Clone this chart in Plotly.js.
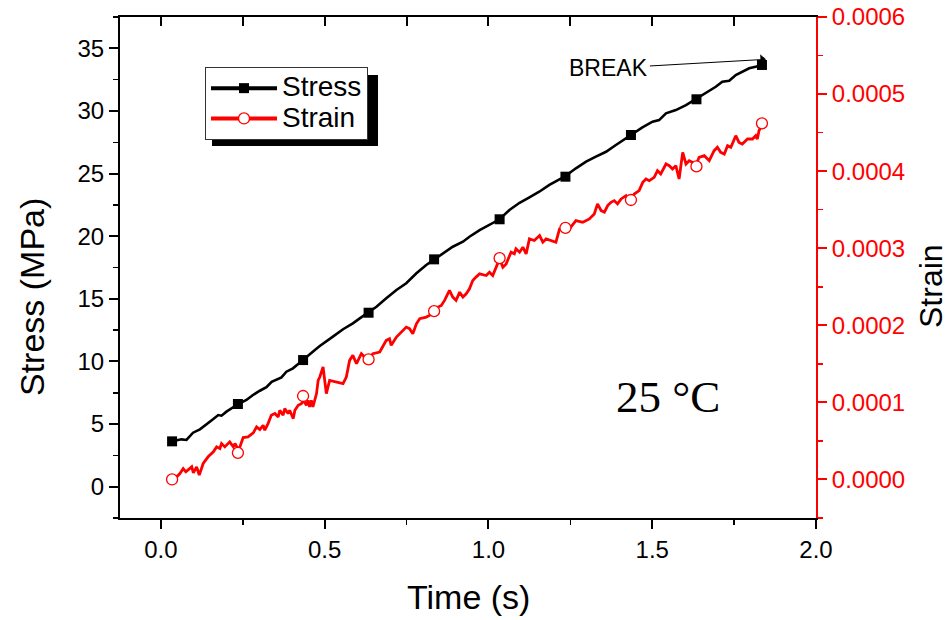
<!DOCTYPE html>
<html>
<head>
<meta charset="utf-8">
<script src="https://cdn.plot.ly/plotly-3.0.1.min.js"></script>
<style>html,body{margin:0;padding:0;background:#fff;}#chart{width:951px;height:620px;}</style>
</head>
<body>
<div id="chart"></div>
<script>
// ---- data ----
const stressTime = [0.034,0.063,0.078,0.088,0.098,0.119,0.139,0.159,0.175,0.185,0.200,0.220,0.236,0.261,0.281,0.302,0.322,0.338,0.353,0.368,0.383,0.403,0.419,0.434,0.454,0.470,0.485,0.505,0.525,0.556,0.586,0.607,0.632,0.658,0.688,0.719,0.749,0.780,0.810,0.835,0.861,0.891,0.922,0.942,0.973,1.003,1.034,1.064,1.095,1.125,1.155,1.186,1.232,1.267,1.298,1.328,1.359,1.389,1.435,1.470,1.501,1.521,1.542,1.572,1.603,1.633,1.664,1.694,1.714,1.735,1.755,1.775,1.796,1.816,1.836];
const stressValues = [3.62,3.78,3.73,3.99,4.31,4.58,4.95,5.38,5.72,5.67,5.99,6.34,6.60,6.92,7.32,7.66,7.94,8.38,8.57,8.73,9.18,9.45,9.80,10.11,10.51,10.91,11.23,11.58,11.98,12.57,13.04,13.44,13.89,14.37,15.04,15.70,16.24,17.04,17.70,18.15,18.63,19.16,19.56,19.96,20.49,20.89,21.35,22.09,22.67,23.10,23.55,24.09,24.75,25.42,25.95,26.35,26.74,27.28,28.08,28.69,29.14,29.27,29.81,30.07,30.47,30.93,31.41,31.93,32.33,32.41,32.87,33.13,33.40,33.53,33.67];

const strainTime = [0.035,0.048,0.058,0.068,0.076,0.083,0.094,0.099,0.109,0.117,0.129,0.144,0.160,0.170,0.180,0.185,0.195,0.210,0.221,0.226,0.236,0.241,0.251,0.266,0.282,0.292,0.302,0.312,0.317,0.327,0.337,0.348,0.358,0.363,0.373,0.378,0.388,0.393,0.404,0.409,0.419,0.429,0.436,0.444,0.449,0.454,0.459,0.464,0.475,0.480,
0.485,0.495,0.505,0.515,0.536,0.556,0.566,0.576,0.586,0.597,0.612,0.627,0.634,0.647,0.668,0.688,0.698,0.703,0.719,0.729,0.749,0.759,0.769,0.780,0.790,0.810,0.820,0.835,0.846,0.856,0.866,0.881,0.891,0.901,0.912,0.922,0.932,0.942,0.952,0.962,0.973,
0.993,1.003,1.013,1.023,1.034,1.044,1.054,1.069,1.079,1.084,1.095,1.105,1.115,1.125,1.140,1.156,1.166,1.176,1.191,1.206,1.217,1.235,1.247,1.267,1.288,1.308,1.323,1.333,1.344,1.354,1.364,1.374,1.384,1.394,1.405,1.420,1.430,1.435,1.445,1.460,
1.471,1.481,1.491,1.506,1.516,1.526,1.542,1.552,1.562,1.572,1.582,1.593,1.603,1.613,1.623,1.633,1.643,1.659,1.674,1.689,1.699,1.709,1.720,1.730,1.740,1.755,1.765,1.775,1.791,1.806,1.816,1.821,1.826,1.836];
const strainValues = [0e-5,0.34e-5,0.77e-5,1.42e-5,0.99e-5,1.20e-5,1.64e-5,0.86e-5,1.64e-5,0.56e-5,2.07e-5,2.94e-5,3.58e-5,4.23e-5,4.01e-5,4.66e-5,4.23e-5,4.88e-5,4.23e-5,4.66e-5,3.90e-5,4.23e-5,5.44e-5,5.52e-5,6.04e-5,6.82e-5,6.47e-5,7.03e-5,6.39e-5,7.25e-5,8.33e-5,8.55e-5,8.11e-5,8.98e-5,8.33e-5,9.19e-5,8.55e-5,8.98e-5,7.90e-5,8.98e-5,9.62e-5,9.84e-5,10.27e-5,9.62e-5,10.27e-5,9.41e-5,10.27e-5,9.41e-5,11.14e-5,12.86e-5,
13.29e-5,14.59e-5,11.14e-5,12.86e-5,12.65e-5,12.43e-5,13.29e-5,15.45e-5,16.10e-5,15.02e-5,16.32e-5,15.67e-5,15.58e-5,16.32e-5,16.53e-5,18.04e-5,18.26e-5,17.40e-5,18.48e-5,18.91e-5,19.77e-5,19.56e-5,18.91e-5,20.20e-5,20.85e-5,21.07e-5,21.28e-5,21.84e-5,22.36e-5,22.58e-5,23.23e-5,24.52e-5,23.66e-5,23.23e-5,24.30e-5,23.66e-5,24.09e-5,24.74e-5,25.82e-5,26.25e-5,26.68e-5,
26.46e-5,26.89e-5,26.46e-5,27.54e-5,28.62e-5,27.54e-5,27.97e-5,29.49e-5,29.27e-5,29.92e-5,29.49e-5,30.13e-5,29.27e-5,31.21e-5,31.00e-5,31.64e-5,30.78e-5,31.21e-5,31.00e-5,30.78e-5,32.51e-5,32.64e-5,32.51e-5,33.59e-5,33.37e-5,33.80e-5,34.45e-5,35.75e-5,34.88e-5,34.67e-5,35.53e-5,35.96e-5,36.18e-5,35.75e-5,36.40e-5,36.83e-5,36.18e-5,36.26e-5,37.04e-5,37.47e-5,
38.55e-5,38.99e-5,38.77e-5,39.20e-5,40.06e-5,39.63e-5,40.93e-5,40.71e-5,40.28e-5,40.71e-5,38.99e-5,42.44e-5,40.93e-5,41.36e-5,41.14e-5,40.71e-5,41.79e-5,42.01e-5,41.36e-5,42.66e-5,43.09e-5,42.44e-5,42.22e-5,43.30e-5,43.09e-5,44.60e-5,43.73e-5,43.52e-5,44.17e-5,44.17e-5,44.60e-5,44.17e-5,45.25e-5,46.20e-5];

const markerTime = [0.034,0.235,0.434,0.634,0.834,1.034,1.235,1.435,1.635,1.835];
const stressMarks = [3.62,6.60,10.11,13.89,18.15,21.35,24.75,28.08,30.93,33.67];
const strainMarks = [0e-5,3.45e-5,10.83e-5,15.58e-5,21.84e-5,28.71e-5,32.64e-5,36.26e-5,40.62e-5,46.20e-5];

const seriesNames = ['Stress','Strain'];
const xTitle = 'Time (s)';
const yTitle = 'Stress (MPa)';
const y2Title = 'Strain';
const tempLabel = '25 °C';
const breakLabel = 'BREAK';

// ---- chart ----
const BLACK = '#000000', RED = '#ff0000';
const FONT = 'Arial, "Liberation Sans", sans-serif';
const W = 951, H = 620, L = 120, R = 135, T = 17, B = 102;
const pw = W - L - R, ph = H - T - B;
const px = v => (v - L) / pw;      // pixel -> paper x
const py = v => (H - B - v) / ph;  // pixel -> paper y
const big = s => '<span style="font-size:28px">' + s + '</span>';

const traces = [
  {x: stressTime, y: stressValues, mode: 'lines', line: {color: BLACK, width: 2.6}, showlegend: false, hoverinfo: 'skip'},
  {x: markerTime, y: stressMarks, mode: 'markers', marker: {symbol: 'square', size: 10, color: BLACK}, showlegend: false},
  {x: strainTime, y: strainValues, yaxis: 'y2', mode: 'lines', line: {color: RED, width: 2.8}, showlegend: false, hoverinfo: 'skip'},
  {x: markerTime, y: strainMarks, yaxis: 'y2', mode: 'markers', marker: {symbol: 'circle', size: 11, color: '#ffffff', line: {color: RED, width: 1.3}}, showlegend: false},
  // legend entries
  {x: [null], y: [null], xaxis: 'x2', mode: 'lines+markers', name: big(seriesNames[0]), line: {color: BLACK, width: 4}, marker: {symbol: 'square', size: 10, color: BLACK}},
  {x: [null], y: [null], xaxis: 'x2', yaxis: 'y2', mode: 'lines+markers', name: big(seriesNames[1]), line: {color: RED, width: 4}, marker: {symbol: 'circle', size: 11, color: '#ffffff', line: {color: RED, width: 1.3}}}
];

const xr = [-0.125, 2.0];
const layout = {
  width: W, height: H,
  margin: {l: L, r: R, t: T, b: B, pad: 0},
  paper_bgcolor: '#ffffff', plot_bgcolor: '#ffffff',
  font: {family: FONT, color: BLACK, size: 24},
  showlegend: true,
  legend: {x: px(205), y: py(67), xanchor: 'left', yanchor: 'top', bgcolor: '#ffffff', bordercolor: '#333333', borderwidth: 1,
           font: {family: FONT, size: 21, color: BLACK}, tracegroupgap: 0, traceorder: 'normal', itemwidth: 66},
  xaxis: {range: xr, tick0: 0, dtick: 0.5, tickformat: '.1f', ticks: 'outside', ticklen: 9, tickwidth: 2, tickcolor: BLACK,
          showline: true, linewidth: 2, linecolor: BLACK, showgrid: false, zeroline: false, tickfont: {size: 24},
          minor: {tick0: 0, dtick: 0.25, ticks: 'outside', ticklen: 5, tickwidth: 1.5, tickcolor: BLACK, showgrid: false}},
  xaxis2: {range: xr, overlaying: 'x', side: 'top', anchor: 'y', tick0: 0, dtick: 0.25, ticks: 'inside', ticklen: 9, tickwidth: 2,
           tickcolor: BLACK, showticklabels: false, showline: true, linewidth: 2, linecolor: BLACK, showgrid: false, zeroline: false},
  yaxis: {range: [-2.5, 37.5], tick0: 0, dtick: 5, ticks: 'outside', ticklen: 9, tickwidth: 2, tickcolor: BLACK,
          showline: true, linewidth: 2, linecolor: BLACK, showgrid: false, zeroline: false, tickfont: {size: 24},
          minor: {tick0: 0, dtick: 2.5, ticks: 'outside', ticklen: 5, tickwidth: 1.5, tickcolor: BLACK, showgrid: false}},
  yaxis2: {range: [-0.00005, 0.0006], overlaying: 'y', side: 'right', anchor: 'x', tick0: 0, dtick: 0.0001, tickformat: '.4f',
           ticks: 'outside', ticklen: 9, tickwidth: 2, tickcolor: RED, showline: true, linewidth: 2, linecolor: RED,
           showgrid: false, zeroline: false, tickfont: {size: 24, color: RED},
           minor: {tick0: 0, dtick: 0.00005, ticks: 'outside', ticklen: 5, tickwidth: 1.5, tickcolor: RED, showgrid: false}},
  shapes: [
    {type: 'rect', xref: 'paper', yref: 'paper', x0: px(212), x1: px(378), y0: py(146), y1: py(75),
     fillcolor: BLACK, line: {width: 0}, layer: 'below'}
  ],
  annotations: [
    {text: xTitle, xref: 'paper', yref: 'paper', x: 0.5, y: py(597), xanchor: 'center', yanchor: 'middle', showarrow: false,
     font: {family: FONT, size: 34, color: BLACK}},
    {text: yTitle, xref: 'paper', yref: 'paper', x: px(32), y: py(297), xanchor: 'center', yanchor: 'middle', showarrow: false,
     textangle: -90, font: {family: FONT, size: 34, color: BLACK}},
    {text: y2Title, xref: 'paper', yref: 'paper', x: px(931), y: py(286), xanchor: 'center', yanchor: 'middle', showarrow: false,
     textangle: -90, font: {family: FONT, size: 32, color: BLACK}},
    {text: tempLabel, xref: 'paper', yref: 'paper', x: px(668), y: py(397), xanchor: 'center', yanchor: 'middle', showarrow: false,
     font: {family: '"Liberation Serif", "Times New Roman", serif', size: 45, color: BLACK}},
    {text: breakLabel, xref: 'x', yref: 'y', x: markerTime[markerTime.length - 1] + 0.012, y: stressMarks[stressMarks.length - 1] + 0.45,
     ax: -157, ay: 9, showarrow: true, arrowhead: 1, arrowsize: 1.8, arrowwidth: 1, arrowcolor: BLACK, standoff: 0,
     font: {family: FONT, size: 23, color: BLACK}}
  ]
};

Plotly.newPlot('chart', traces, layout, {staticPlot: true, displayModeBar: false});
</script>
</body>
</html>
